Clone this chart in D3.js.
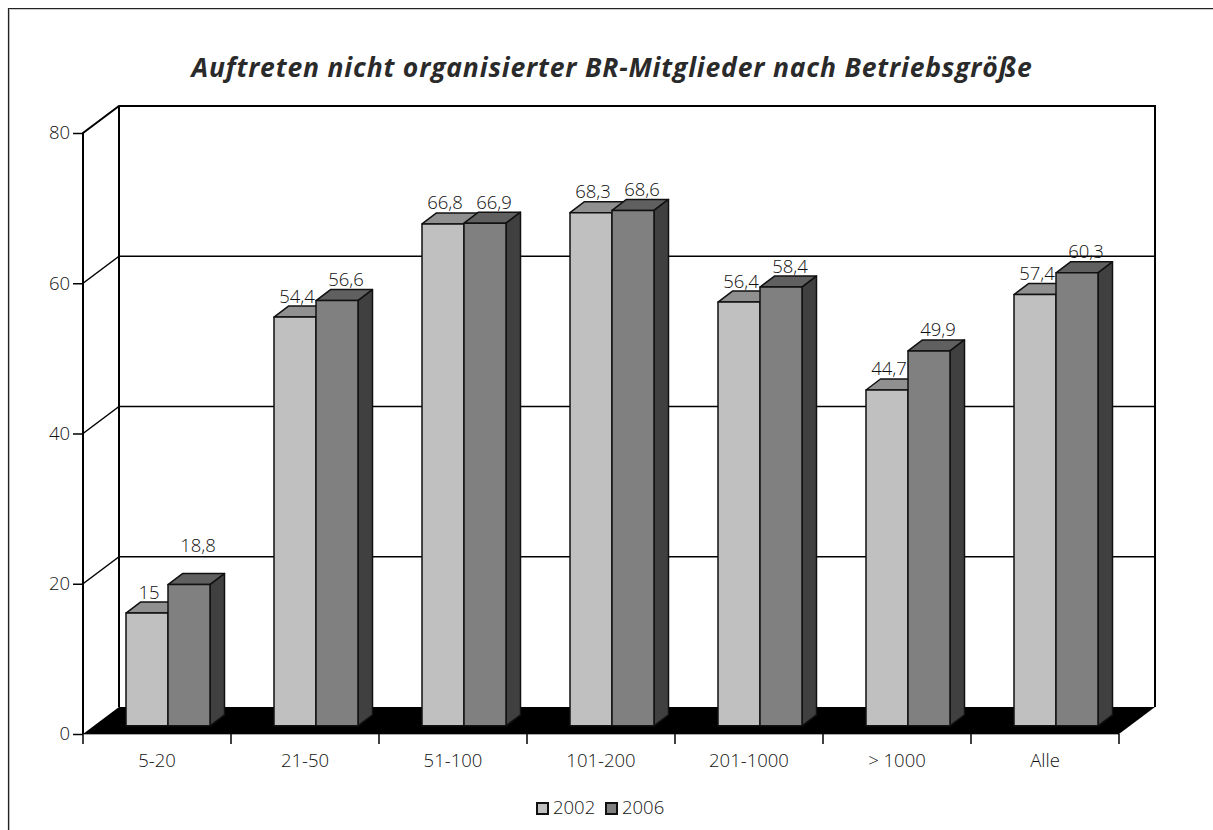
<!DOCTYPE html>
<html>
<head>
<meta charset="utf-8">
<script src="https://cdn.jsdelivr.net/npm/d3@7"></script>
<style>
  html, body { margin: 0; padding: 0; background: #fff; }
  svg { display: block; }
  text { font-family: "Open Sans", sans-serif; font-weight: 300; fill: #111; }
</style>
</head>
<body>
<div id="chart"></div>
<script>
var categories = ['5-20', '21-50', '51-100', '101-200', '201-1000', '> 1000', 'Alle'];
var years = ['2002', '2006'];
var values2002 = [15, 54.4, 66.8, 68.3, 56.4, 44.7, 57.4];
var values2006 = [18.8, 56.6, 66.9, 68.6, 58.4, 49.9, 60.3];
var yTicks = [0, 20, 40, 60, 80];
var titleText = 'Auftreten nicht organisierter BR-Mitglieder nach Betriebsgröße';

var width = 1213, height = 830;
var fontSize = 18.5;

var svg = d3.select('#chart').append('svg')
  .attr('width', width).attr('height', height);

// outer frame, runs off the picture on the right and at the bottom
svg.append('path').attr('d', 'M9.5,830V9.5H1213')
  .attr('fill', 'none').attr('stroke', '#ccc').attr('stroke-width', 1);
svg.append('path').attr('d', 'M8.5,830V8.5H1213')
  .attr('fill', 'none').attr('stroke', '#222').attr('stroke-width', 1.2);

svg.append('text').attr('x', 612).attr('y', 77)
  .attr('text-anchor', 'middle')
  .attr('font-size', 26.5).attr('font-style', 'italic')
  .style('font-weight', 700).style('fill', '#2a2a2a')
  .attr('letter-spacing', 0.82)
  .text(titleText);

var x = d3.scaleBand().domain(categories).range([83, 1119]);
var y = d3.scaleLinear().domain([0, 80]).range([734, 133]);

// depth of the floor, and of the bars standing on it
var depth = {x: 36, y: -27};
var bd = {x: 14.5, y: -11};
var bw = 42;

// back wall and gridlines
var wall = svg.append('g').attr('fill', 'none').attr('stroke', '#000');
wall.selectAll('line.grid').data(yTicks.slice(1, 4)).join('line')
  .attr('class', 'grid')
  .attr('x1', x.range()[0] + depth.x).attr('x2', x.range()[1] + depth.x)
  .attr('y1', function(d) { return y(d) + depth.y; })
  .attr('y2', function(d) { return y(d) + depth.y; })
  .attr('stroke-width', 1.5);
wall.append('path')
  .attr('d', d3.line()([
    [x.range()[0], y(0)], [x.range()[0], y(80)],
    [x.range()[0] + depth.x, y(80) + depth.y],
    [x.range()[1] + depth.x, y(80) + depth.y],
    [x.range()[1] + depth.x, y(0) + depth.y]
  ]))
  .attr('stroke-width', 2);
wall.append('line')
  .attr('x1', x.range()[0] + depth.x).attr('x2', x.range()[0] + depth.x)
  .attr('y1', y(80) + depth.y).attr('y2', y(0) + depth.y)
  .attr('stroke-width', 2);
wall.append('g').selectAll('line').data(yTicks.slice(1, 4)).join('line')
  .attr('x1', x.range()[0]).attr('x2', x.range()[0] + depth.x)
  .attr('y1', function(d) { return y(d); })
  .attr('y2', function(d) { return y(d) + depth.y; })
  .attr('stroke-width', 1.5);

// black floor
svg.append('path')
  .attr('d', d3.line()([
    [x.range()[0], y(0)],
    [x.range()[0] + depth.x, y(0) + depth.y],
    [x.range()[1] + depth.x, y(0) + depth.y],
    [x.range()[1], y(0)]
  ]) + 'Z')
  .attr('fill', '#000');

// axes
var yAxis = d3.axisLeft(y).tickValues(yTicks).tickSize(10).tickPadding(3);
var gy = svg.append('g').attr('transform', 'translate(83,0)').call(yAxis);
gy.select('.domain').remove();
gy.selectAll('line').attr('stroke', '#000').attr('stroke-width', 1.5);
gy.selectAll('text').attr('font-size', fontSize).style('font-family', '"Open Sans", sans-serif');

var xAxisLine = svg.append('g');
xAxisLine.append('line')
  .attr('x1', x.range()[0]).attr('x2', x.range()[1])
  .attr('y1', y(0) + 0.5).attr('y2', y(0) + 0.5)
  .attr('stroke', '#aaa').attr('stroke-width', 1);
xAxisLine.selectAll('line.tick').data(d3.range(categories.length + 1)).join('line')
  .attr('class', 'tick')
  .attr('x1', function(i) { return x.range()[0] + i * x.step(); })
  .attr('x2', function(i) { return x.range()[0] + i * x.step(); })
  .attr('y1', y(0)).attr('y2', y(0) + 10)
  .attr('stroke', '#000').attr('stroke-width', 1.5);

svg.append('g').selectAll('text').data(categories).join('text')
  .attr('x', function(d) { return x(d) + x.bandwidth() / 2; })
  .attr('y', 767)
  .attr('text-anchor', 'middle').attr('font-size', fontSize)
  .text(function(d) { return d; });

// bars
var barColors = [
  {front: '#c0c0c0', top: '#909090', side: '#404040'},
  {front: '#808080', top: '#606060', side: '#404040'}
];
var yBar = function(v) { return y(v) - 8.2; };
var xBar = function(cat, s) { return x(cat) + 43 + s * bw; };

var rows = [];
categories.forEach(function(cat, i) {
  rows.push({cat: cat, s: 0, v: values2002[i]});
  rows.push({cat: cat, s: 1, v: values2006[i]});
});

var labelDx = [2, 9];
function labelY(r) {
  // the 18,8 label was moved up clear of its bar in the original
  return yBar(r.v) - (r.v === 18.8 ? 33 : 14.5);
}

var bars = svg.append('g').attr('stroke', '#111').attr('stroke-width', 1.5).attr('stroke-linejoin', 'round');
rows.forEach(function(r) {
  var x0 = xBar(r.cat, r.s), x1 = x0 + bw, t = yBar(r.v), b = yBar(0);
  var c = barColors[r.s];
  var g = bars.append('g');
  g.append('path')
    .attr('d', d3.line()([[x0, t], [x0 + bd.x, t + bd.y], [x1 + bd.x, t + bd.y], [x1, t]]) + 'Z')
    .attr('fill', c.top);
  g.append('path')
    .attr('d', d3.line()([[x1, t], [x1 + bd.x, t + bd.y], [x1 + bd.x, b + bd.y], [x1, b]]) + 'Z')
    .attr('fill', c.side);
  g.append('rect')
    .attr('x', x0).attr('y', t).attr('width', bw).attr('height', b - t)
    .attr('fill', c.front);
});

svg.append('g').selectAll('text').data(rows).join('text')
  .attr('x', function(r) { return xBar(r.cat, r.s) + bw / 2 + labelDx[r.s]; })
  .attr('y', labelY)
  .attr('text-anchor', 'middle').attr('font-size', fontSize)
  .text(function(r) { return String(r.v).replace('.', ','); });

// legend
var legend = svg.append('g');
var legendX = d3.scalePoint().domain(years).range([537, 606]);
years.forEach(function(yr, i) {
  legend.append('rect')
    .attr('x', legendX(yr)).attr('y', 803).attr('width', 11).attr('height', 11)
    .attr('fill', barColors[i].front).attr('stroke', '#111').attr('stroke-width', 2);
  legend.append('text')
    .attr('x', legendX(yr) + 16).attr('y', 814)
    .attr('font-size', fontSize)
    .text(yr);
});
</script>
</body>
</html>
